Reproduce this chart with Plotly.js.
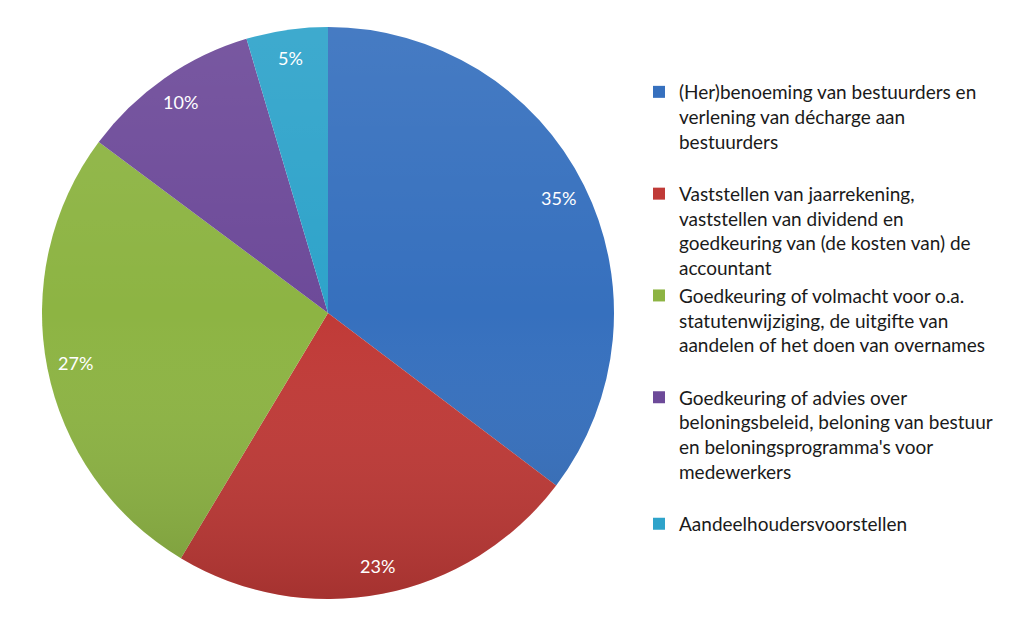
<!DOCTYPE html>
<html>
<head>
<meta charset="utf-8">
<script src="https://cdn.plot.ly/plotly-3.0.1.min.js"></script>
<style>html,body{margin:0;padding:0;background:#fff;}#chart{width:1024px;height:642px;}</style>
</head>
<body>
<div id="chart"></div>
<script>
const categories = [
  "(Her)benoeming van bestuurders en<br>verlening van décharge aan<br>bestuurders<br> ",
  "Vaststellen van jaarrekening,<br>vaststellen van dividend en<br>goedkeuring van (de kosten van) de<br>accountant",
  "Goedkeuring of volmacht voor o.a.<br>statutenwijziging, de uitgifte van<br>aandelen of het doen van overnames<br> ",
  "Goedkeuring of advies over<br>beloningsbeleid, beloning van bestuur<br>en beloningsprogramma's voor<br>medewerkers<br> ",
  "Aandeelhoudersvoorstellen"
];
const values = [35.3, 23.3, 26.6, 10.2, 4.6];
const colors = ["#3670BE", "#C03A37", "#8DB443", "#6D4A99", "#2EA3CA"];

const W = 1024, H = 642;
const cxPx = 328, cyPx = 313, R = 286;
const domX = [(cxPx - R) / W, (cxPx + R) / W];
const domY = [1 - (cyPx + R) / H, 1 - (cyPx - R) / H];

const total = values.reduce((a, b) => a + b, 0);
let cum = 0;
const annotations = values.map((v) => {
  const mid = (cum + v / 2) / total * 2 * Math.PI;
  cum += v;
  const rr = 0.9 * R;
  const cx = (domX[0] + domX[1]) / 2, cy = (domY[0] + domY[1]) / 2;
  return {
    xref: 'paper', yref: 'paper',
    x: cx + rr * Math.sin(mid) / W,
    y: cy + rr * Math.cos(mid) / H,
    text: Math.round(v / total * 100) + '%',
    showarrow: false,
    font: {family: 'Lato, sans-serif', size: 18, color: '#ffffff'},
    xanchor: 'center', yanchor: 'middle'
  };
});

const shadeSvg = '<svg xmlns="http://www.w3.org/2000/svg" viewBox="0 0 100 100">' +
  '<defs><linearGradient id="g" x1="0" y1="0" x2="0" y2="1">' +
  '<stop offset="0" stop-color="#ffffff" stop-opacity="0.08"/>' +
  '<stop offset="0.5" stop-color="#ffffff" stop-opacity="0"/>' +
  '<stop offset="1" stop-color="#000000" stop-opacity="0.14"/>' +
  '</linearGradient></defs><circle cx="50" cy="50" r="50" fill="url(#g)"/></svg>';

const trace = {
  type: 'pie',
  labels: categories,
  values: values,
  sort: false,
  direction: 'clockwise',
  rotation: 0,
  textinfo: 'none',
  hoverinfo: 'label+percent',
  marker: {colors: colors, line: {width: 0}},
  domain: {x: domX, y: domY}
};

const layout = {
  width: W, height: H,
  margin: {l: 0, r: 0, t: 0, b: 0},
  paper_bgcolor: '#ffffff',
  plot_bgcolor: '#ffffff',
  showlegend: true,
  legend: {
    x: 0.624, y: 1 - 73 / H, xanchor: 'left', yanchor: 'top',
    valign: 'top',
    font: {family: 'Lato, sans-serif', size: 19, color: '#1a1a1a'},
    tracegroupgap: 0
  },
  images: [{
    source: 'data:image/svg+xml;charset=utf-8,' + encodeURIComponent(shadeSvg),
    xref: 'paper', yref: 'paper',
    x: domX[0], y: domY[1],
    sizex: domX[1] - domX[0], sizey: domY[1] - domY[0],
    xanchor: 'left', yanchor: 'top',
    sizing: 'stretch', layer: 'above'
  }],
  annotations: annotations
};

Plotly.newPlot('chart', [trace], layout, {displayModeBar: false, staticPlot: true});
</script>
</body>
</html>
